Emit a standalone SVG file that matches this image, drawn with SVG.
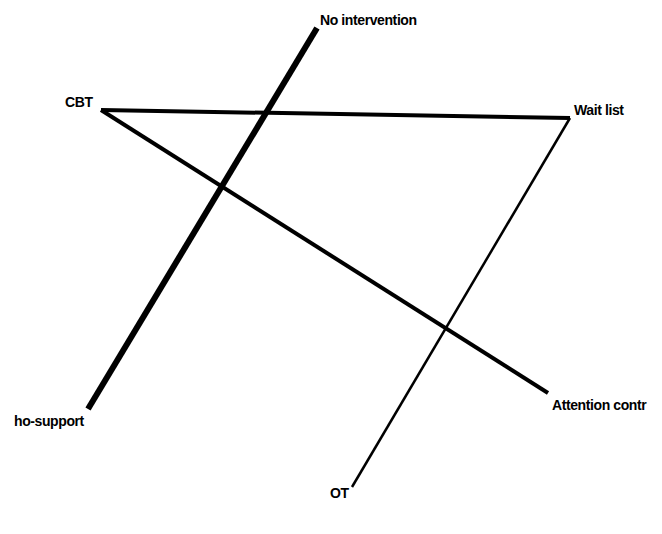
<svg xmlns="http://www.w3.org/2000/svg" width="662" height="534" viewBox="0 0 662 534">
<style>
.lbl{font-family:"Liberation Sans",Arial,sans-serif;font-size:14px;font-weight:bold;fill:#000;letter-spacing:-0.4px}
.e{stroke:#000;fill:none;stroke-linecap:butt}
</style>
<rect width="662" height="534" fill="#fff"/>
<g id="edges">
<line class="e" x1="317" y1="28" x2="88" y2="409" stroke-width="6"/>
<line class="e" x1="101" y1="110" x2="570" y2="118" stroke-width="4"/>
<line class="e" x1="101" y1="110" x2="548" y2="393" stroke-width="4"/>
<line class="e" x1="570" y1="118" x2="352" y2="487" stroke-width="2.5"/>
</g>
<g id="node-no-intervention"><text class="lbl" x="320" y="25">No intervention</text></g>
<g id="node-cbt"><text class="lbl" x="65" y="107">CBT</text></g>
<g id="node-wait-list"><text class="lbl" x="574" y="115">Wait list</text></g>
<g id="node-psycho-support"><text class="lbl" x="14" y="426">ho-support</text></g>
<g id="node-attention-control"><text class="lbl" x="552" y="410">Attention contr</text></g>
<g id="node-ot"><text class="lbl" x="330" y="498">OT</text></g>
</svg>
